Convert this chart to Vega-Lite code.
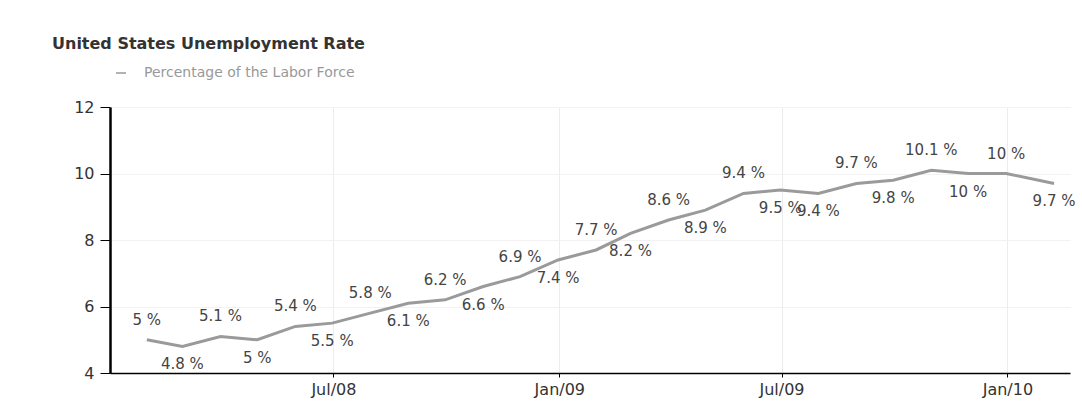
{
  "$schema": "https://vega.github.io/schema/vega-lite/v6.json",
  "width": 960,
  "height": 266,
  "autosize": {"type": "none"},
  "padding": {"left": 110, "top": 107, "right": 12, "bottom": 39},
  "background": "white",
  "title": {
    "text": "United States Unemployment Rate",
    "anchor": "start",
    "frame": "group",
    "dx": -58,
    "offset": 14,
    "fontSize": 16,
    "fontWeight": "bold",
    "font": "DejaVu Sans",
    "color": "#333333"
  },
  "config": {
    "view": {"stroke": null},
    "font": "DejaVu Sans"
  },
  "data": {
    "values": [
      {"date": "2008-01-31", "rate": 5.0, "series": "Percentage of the Labor Force"},
      {"date": "2008-02-29", "rate": 4.8, "series": "Percentage of the Labor Force"},
      {"date": "2008-03-31", "rate": 5.1, "series": "Percentage of the Labor Force"},
      {"date": "2008-04-30", "rate": 5.0, "series": "Percentage of the Labor Force"},
      {"date": "2008-05-31", "rate": 5.4, "series": "Percentage of the Labor Force"},
      {"date": "2008-06-30", "rate": 5.5, "series": "Percentage of the Labor Force"},
      {"date": "2008-07-31", "rate": 5.8, "series": "Percentage of the Labor Force"},
      {"date": "2008-08-31", "rate": 6.1, "series": "Percentage of the Labor Force"},
      {"date": "2008-09-30", "rate": 6.2, "series": "Percentage of the Labor Force"},
      {"date": "2008-10-31", "rate": 6.6, "series": "Percentage of the Labor Force"},
      {"date": "2008-11-30", "rate": 6.9, "series": "Percentage of the Labor Force"},
      {"date": "2008-12-31", "rate": 7.4, "series": "Percentage of the Labor Force"},
      {"date": "2009-01-31", "rate": 7.7, "series": "Percentage of the Labor Force"},
      {"date": "2009-02-28", "rate": 8.2, "series": "Percentage of the Labor Force"},
      {"date": "2009-03-31", "rate": 8.6, "series": "Percentage of the Labor Force"},
      {"date": "2009-04-30", "rate": 8.9, "series": "Percentage of the Labor Force"},
      {"date": "2009-05-31", "rate": 9.4, "series": "Percentage of the Labor Force"},
      {"date": "2009-06-30", "rate": 9.5, "series": "Percentage of the Labor Force"},
      {"date": "2009-07-31", "rate": 9.4, "series": "Percentage of the Labor Force"},
      {"date": "2009-08-31", "rate": 9.7, "series": "Percentage of the Labor Force"},
      {"date": "2009-09-30", "rate": 9.8, "series": "Percentage of the Labor Force"},
      {"date": "2009-10-31", "rate": 10.1, "series": "Percentage of the Labor Force"},
      {"date": "2009-11-30", "rate": 10.0, "series": "Percentage of the Labor Force"},
      {"date": "2009-12-31", "rate": 10.0, "series": "Percentage of the Labor Force"},
      {"date": "2010-02-08", "rate": 9.7, "series": "Percentage of the Labor Force"}
    ]
  },
  "encoding": {
    "x": {
      "field": "date",
      "type": "temporal",
      "scale": {"domain": [{"year": 2008, "month": 1, "date": 1}, {"year": 2010, "month": 2, "date": 21}]},
      "axis": {
        "title": null,
        "values": [
          {"year": 2008, "month": 7, "date": 1},
          {"year": 2009, "month": 1, "date": 1},
          {"year": 2009, "month": 7, "date": 1},
          {"year": 2010, "month": 1, "date": 1}
        ],
        "format": "%b/%y",
        "labelFontSize": 16,
        "labelColor": "#333333",
        "labelFont": "DejaVu Sans",
        "labelPadding": 4,
        "tickSize": 4,
        "tickColor": "#000000",
        "domainColor": "#000000",
        "domainWidth": 1.5,
        "grid": true,
        "gridColor": "#ececec",
        "labelFlush": false
      }
    },
    "y": {
      "field": "rate",
      "type": "quantitative",
      "scale": {"domain": [4, 12], "nice": false, "zero": false},
      "axis": {
        "title": null,
        "values": [4, 6, 8, 10, 12],
        "labelFontSize": 16,
        "labelColor": "#333333",
        "labelFont": "DejaVu Sans",
        "labelPadding": 6,
        "tickSize": 10,
        "tickColor": "#000000",
        "domainColor": "#000000",
        "domainWidth": 2.5,
        "grid": true,
        "gridColor": "#f2f2f2"
      }
    }
  },
  "layer": [
    {
      "mark": {"type": "line", "strokeWidth": 3},
      "encoding": {
        "color": {
          "field": "series",
          "type": "nominal",
          "scale": {"range": ["#9a9a9a"]},
          "legend": {
            "title": null,
            "orient": "none",
            "legendX": 4,
            "legendY": -41,
            "symbolType": "stroke",
            "symbolStrokeWidth": 1.5,
            "symbolSize": 100,
            "labelFontSize": 14,
            "labelColor": "#999999",
            "labelFont": "DejaVu Sans",
            "labelOffset": 16,
            "labelLimit": 0
          }
        }
      }
    },
    {
      "transform": [
        {"window": [{"op": "row_number", "as": "idx"}], "sort": [{"field": "date"}]},
        {"calculate": "datum.rate + ' %'", "as": "label"},
        {"filter": "datum.idx <= 18 ? datum.idx % 2 == 1 : datum.idx % 2 == 0"}
      ],
      "mark": {"type": "text", "dy": -20, "fontSize": 15, "color": "#444444", "font": "DejaVu Sans"},
      "encoding": {"text": {"field": "label"}}
    },
    {
      "transform": [
        {"window": [{"op": "row_number", "as": "idx"}], "sort": [{"field": "date"}]},
        {"calculate": "datum.rate + ' %'", "as": "label"},
        {"filter": "datum.idx <= 18 ? datum.idx % 2 == 0 : datum.idx % 2 == 1"}
      ],
      "mark": {"type": "text", "dy": 18, "fontSize": 15, "color": "#444444", "font": "DejaVu Sans"},
      "encoding": {"text": {"field": "label"}}
    }
  ]
}
